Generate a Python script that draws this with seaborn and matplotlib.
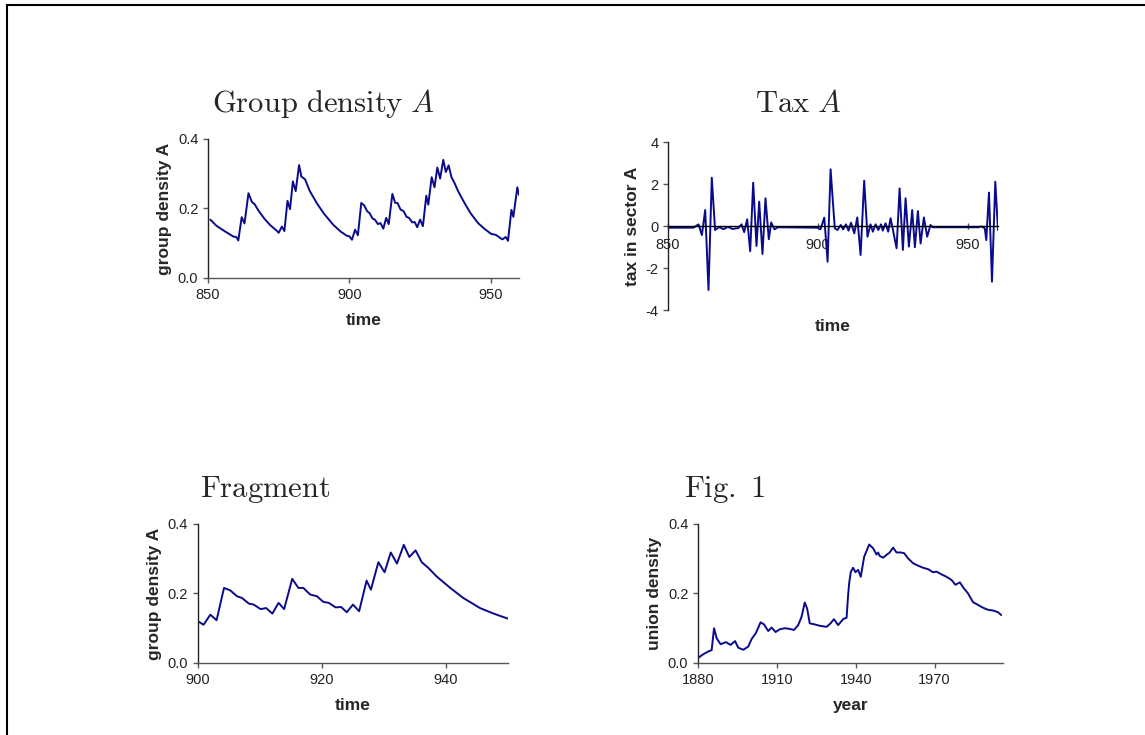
import matplotlib
matplotlib.use("Agg")
import matplotlib.pyplot as plt
from matplotlib.lines import Line2D
import seaborn as sns

# group density A (simulated), time 850-960
density_time = [
    850.8, 853, 856, 859, 860, 860.7, 861.9, 862.9, 864.3, 865.5, 866.5, 868, 870, 872,
    874.3, 875, 876.1, 877, 878.1, 879, 880, 881, 882.2, 883, 884.3, 886, 888.5, 891,
    894.4, 897, 899.2,
    900, 900.9, 902, 903, 904.2, 905.2, 906.3, 907.1, 908.2, 909, 910.1, 911, 912, 913,
    913.9, 915.2, 916.2, 917, 918.1, 919.2, 920.2, 921.1, 922.2, 923.1, 924, 925, 926,
    927.2, 927.9, 929.1, 930.1, 931.1, 932.1, 933.2, 934.1, 935.1, 936.1, 937.2, 938.5,
    940.7, 942.8, 945.5, 947.7, 950.1,
    951.8, 954.1, 955.3, 956.1, 957.3, 958, 959.4, 960,
]
density_value = [
    0.168, 0.150, 0.134, 0.119, 0.118, 0.108, 0.175, 0.157, 0.244, 0.219, 0.212, 0.192, 0.170, 0.152,
    0.136, 0.130, 0.148, 0.135, 0.222, 0.198, 0.278, 0.250, 0.325, 0.292, 0.284, 0.250, 0.215, 0.185,
    0.152, 0.133, 0.121,
    0.120, 0.110, 0.139, 0.123, 0.216, 0.209, 0.192, 0.187, 0.171, 0.168, 0.155, 0.158, 0.142, 0.173,
    0.155, 0.242, 0.216, 0.216, 0.197, 0.192, 0.176, 0.173, 0.160, 0.161, 0.146, 0.168, 0.149,
    0.237, 0.211, 0.290, 0.261, 0.318, 0.286, 0.340, 0.305, 0.324, 0.290, 0.273, 0.249,
    0.216, 0.187, 0.158, 0.142, 0.127,
    0.124, 0.111, 0.118, 0.107, 0.196, 0.176, 0.261, 0.239,
]

# tax in sector A
tax_time = [
    850, 858.5, 860.2, 861.3, 862.4, 863.5, 864.6, 865.7, 867, 868.5, 870, 871.5, 873.4,
    874.5, 875.4, 876.4, 877.4, 878.4, 879.5, 880.4, 881.5, 882.5, 883.6, 884.4, 885.5,
    886.6, 899.9, 900.8, 902.1, 903.2, 904.2, 905.6, 906.5, 907.6, 908.4, 909.3, 910.2,
    911.0, 912.1, 913.1, 914.2, 915.4, 916.5, 917.5, 918.3, 919.2, 920.1, 921.0, 921.6,
    922.5, 923.4, 924.2, 926.2, 927.2, 928.3, 929.2, 930.3, 931.4, 932.3, 933.3, 934.2,
    935.3, 936.4, 937.5, 938.2, 953.4, 954.5, 955.6, 956.1, 957.0, 958.0, 959.1, 960,
]
tax_value = [
    -0.08, -0.08, 0.08, -0.43, 0.76, -3.05, 2.3, -0.19, -0.05, -0.15, -0.04, -0.14, -0.10,
    0.08, -0.29, 0.32, -1.2, 2.06, -0.95, 1.16, -1.33, 1.32, -0.63, 0.17, -0.16,
    -0.06, -0.08, -0.16, 0.40, -1.70, 2.70, -0.11, -0.19, 0.05, -0.16, 0.08, -0.22,
    0.16, -0.35, 0.41, -1.38, 2.16, -0.51, 0.08, -0.27, 0.08, -0.19, 0.08, -0.22,
    0.13, -0.27, 0.37, -1.06, 1.79, -1.14, 1.32, -0.98, 0.76, -1.01, 0.71, -0.83,
    0.41, -0.51, 0.05, -0.06, -0.06, -0.02, -0.11, -0.67, 1.59, -2.65, 2.11, -0.19,
]

# union density (Fig. 1), year 1880-1995
union_year = [
    1880.1, 1882, 1883.9, 1885.2, 1886.1, 1887.1, 1888.6, 1890.6, 1892.4, 1894.1, 1895.3,
    1897.2, 1899.1, 1900.4, 1902, 1903.8, 1905.1, 1906.7, 1908, 1909.5, 1911.1, 1913,
    1914.9, 1916.5, 1918.1, 1919.4, 1920.6, 1921.5, 1922.5, 1924.4, 1926.3, 1928.9,
    1930.4, 1931.7, 1933.3, 1935.3, 1936.5, 1937.1, 1937.5, 1938.1, 1939, 1939.9, 1940.9,
    1941.9, 1943.2, 1944.1, 1945.1, 1946.6, 1947.9, 1948.5, 1949.1, 1950.4, 1951.7,
    1952.9, 1954.2, 1955.5, 1957.1, 1958.4, 1959.9, 1961.8, 1963.7, 1965.6, 1967.5,
    1969.4, 1970.7, 1972.6, 1974.5, 1976.4, 1977.9, 1979.6, 1980.9, 1982.7, 1984.6,
    1986.5, 1988.4, 1990.3, 1992.2, 1994.1, 1995.3,
]
union_value = [
    0.015, 0.025, 0.033, 0.037, 0.100, 0.071, 0.054, 0.060, 0.052, 0.063, 0.044,
    0.038, 0.047, 0.069, 0.086, 0.117, 0.111, 0.092, 0.102, 0.089, 0.097, 0.100,
    0.098, 0.095, 0.109, 0.133, 0.174, 0.157, 0.114, 0.111, 0.107, 0.104,
    0.114, 0.126, 0.109, 0.127, 0.130, 0.196, 0.230, 0.262, 0.274, 0.261, 0.268,
    0.248, 0.306, 0.322, 0.341, 0.330, 0.312, 0.318, 0.308, 0.303, 0.311,
    0.318, 0.332, 0.318, 0.318, 0.316, 0.301, 0.287, 0.280, 0.274, 0.270,
    0.261, 0.263, 0.255, 0.248, 0.239, 0.225, 0.232, 0.217, 0.200, 0.175,
    0.167, 0.159, 0.153, 0.151, 0.146, 0.138,
]

LINE = "#0a0a8c"

sns.set_style("ticks")
plt.rcParams["font.family"] = ["Liberation Sans", "DejaVu Sans"]
plt.rcParams["mathtext.fontset"] = "cm"
plt.rcParams["axes.unicode_minus"] = False

fig = plt.figure(figsize=(11.45, 7.35), dpi=100)


def style_axes(ax, ylabel, xlabel):
    for side in ("top", "right"):
        ax.spines[side].set_visible(False)
    ax.spines["left"].set_color("#222222")
    ax.spines["bottom"].set_color("#555555")
    ax.spines["left"].set_linewidth(1.0)
    ax.spines["bottom"].set_linewidth(1.0)
    ax.tick_params(axis="both", labelsize=10.5, length=3.5, width=1, color="#555555",
                   labelcolor="#222222")
    ax.set_ylabel(ylabel, fontsize=12.5, fontweight="bold")
    ax.set_xlabel(xlabel, fontsize=12.5, fontweight="bold", labelpad=8)


# Group density A
ax1 = fig.add_axes([0.1817, 0.6218, 0.2716, 0.1891])
sns.lineplot(x=density_time, y=density_value, ax=ax1, color=LINE, lw=1.4, estimator=None)
ax1.set_xlim(850, 960)
ax1.set_ylim(0, 0.4)
ax1.set_xticks([850, 900, 950])
ax1.set_yticks([0, 0.2, 0.4])
ax1.set_yticklabels(["0.0", "0.2", "0.4"])
style_axes(ax1, "group density A", "time")

# Tax A
ax2 = fig.add_axes([0.5834, 0.5782, 0.2882, 0.2286])
sns.lineplot(x=tax_time, y=tax_value, ax=ax2, color=LINE, lw=1.4, estimator=None)
ax2.set_xlim(850, 960)
ax2.set_ylim(-4, 4)
ax2.set_xticks([850, 900, 950])
ax2.set_yticks([-4, -2, 0, 2, 4])
style_axes(ax2, "tax in sector A", "time")
ax2.spines["bottom"].set_position(("data", 0))
ax2.spines["bottom"].set_color("black")
ax2.tick_params(axis="x", direction="inout", length=5, pad=6)
ax2.xaxis.set_label_coords(0.5, -0.055)
ax2.yaxis.labelpad = 4

# Fragment
ax3 = fig.add_axes([0.1729, 0.098, 0.2707, 0.1891])
sns.lineplot(x=density_time, y=density_value, ax=ax3, color=LINE, lw=1.4, estimator=None)
ax3.set_xlim(900, 950)
ax3.set_ylim(0, 0.4)
ax3.set_xticks([900, 920, 940])
ax3.set_yticks([0, 0.2, 0.4])
ax3.set_yticklabels(["0.0", "0.2", "0.4"])
style_axes(ax3, "group density A", "time")

# Fig. 1
ax4 = fig.add_axes([0.6096, 0.098, 0.2664, 0.1891])
sns.lineplot(x=union_year, y=union_value, ax=ax4, color=LINE, lw=1.4, estimator=None)
ax4.set_xlim(1880, 1996)
ax4.set_ylim(0, 0.4)
ax4.set_xticks([1880, 1910, 1940, 1970])
ax4.set_yticks([0, 0.2, 0.4])
ax4.set_yticklabels(["0.0", "0.2", "0.4"])
style_axes(ax4, "union density", "year")

# panel titles
fig.text(0.1852, 0.8476, r"$\mathrm{Group\ density}\ A$", fontsize=22, va="baseline")
fig.text(0.6594, 0.8476, r"$\mathrm{Tax}\ A$", fontsize=22, va="baseline")
fig.text(0.1747, 0.3243, r"$\mathrm{Fragment}$", fontsize=22, va="baseline")
fig.text(0.5974, 0.3243, r"$\mathrm{Fig.\ 1}$", fontsize=22, va="baseline")

# page frame (top and left edges)
fig.add_artist(Line2D([7 / 1145, 1.0], [1 - 5 / 735, 1 - 5 / 735], transform=fig.transFigure,
                      color="black", lw=1.5))
fig.add_artist(Line2D([7 / 1145, 7 / 1145], [0.0, 1 - 5 / 735], transform=fig.transFigure,
                      color="black", lw=1.5))

fig.savefig("out.png", dpi=100)
